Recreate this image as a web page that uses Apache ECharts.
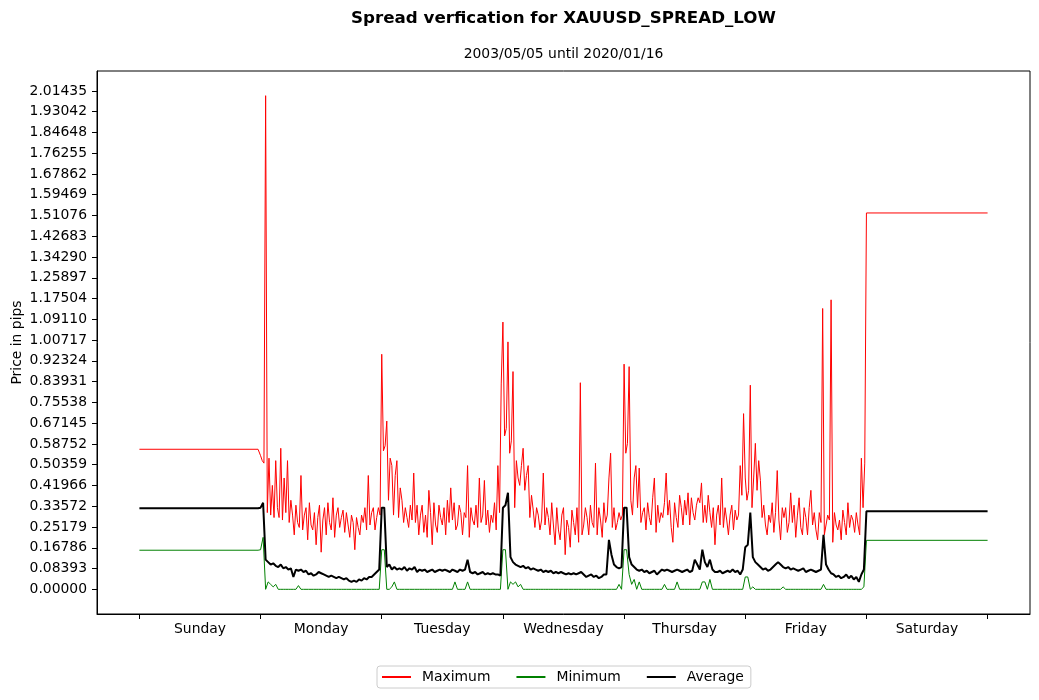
<!DOCTYPE html>
<html>
<head>
<meta charset="utf-8">
<title>Spread verfication for XAUUSD_SPREAD_LOW</title>
<script src="https://cdn.jsdelivr.net/npm/echarts@6/dist/echarts.min.js"></script>
<style>
  html, body { margin: 0; padding: 0; background: #fff; }
  #chart { width: 1039px; height: 700px; }
</style>
</head>
<body>
<div id="chart"></div>
<script>
// day names on the x axis
const dayNames = ['Sunday', 'Monday', 'Tuesday', 'Wednesday', 'Thursday', 'Friday', 'Saturday'];
// y tick step (pips) and number of steps
const yStep = 0.08393112;
const yTickCount = 24;

// flat market-closed levels: [Sunday, Saturday]
const maxWeekend = [0.566, 1.521];
const minWeekend = [0.158, 0.198];
const avgWeekend = [0.328, 0.3155];

// maximum: 20-minute values, Monday .. Friday (72 per day)
const maxMon = [0.54, 0.52, 0.51, 1.995, 0.31, 0.53, 0.30, 0.42, 0.29, 0.52, 0.33, 0.29,
  0.57, 0.28, 0.45, 0.31, 0.52, 0.27, 0.36, 0.30, 0.22, 0.34, 0.27, 0.25,
  0.46, 0.24, 0.30, 0.33, 0.20, 0.35, 0.26, 0.24, 0.31, 0.18, 0.29, 0.34,
  0.15, 0.28, 0.33, 0.22, 0.35, 0.27, 0.24, 0.37, 0.21, 0.30, 0.33, 0.25,
  0.29, 0.32, 0.23, 0.31, 0.26, 0.21, 0.30, 0.27, 0.16, 0.29, 0.25, 0.22,
  0.30, 0.27, 0.33, 0.24, 0.46, 0.26, 0.31, 0.33, 0.24, 0.29, 0.33, 0.30];
const maxTue = [0.95, 0.56, 0.58, 0.68, 0.36, 0.53, 0.50, 0.30, 0.46, 0.52, 0.29, 0.41,
  0.36, 0.27, 0.33, 0.29, 0.25, 0.34, 0.28, 0.47, 0.27, 0.34, 0.22, 0.30,
  0.34, 0.23, 0.30, 0.21, 0.40, 0.31, 0.18, 0.35, 0.26, 0.23, 0.34, 0.29,
  0.26, 0.33, 0.22, 0.36, 0.27, 0.41, 0.28, 0.35, 0.24, 0.26, 0.34, 0.31,
  0.22, 0.31, 0.29, 0.50, 0.21, 0.33, 0.28, 0.26, 0.34, 0.25, 0.45, 0.27,
  0.30, 0.44, 0.26, 0.32, 0.23, 0.30, 0.27, 0.35, 0.24, 0.50, 0.31, 0.83];
const maxWed = [1.08, 0.62, 0.65, 1.00, 0.55, 0.60, 0.88, 0.33, 0.52, 0.45, 0.42, 0.50,
  0.57, 0.40, 0.46, 0.50, 0.29, 0.38, 0.32, 0.25, 0.33, 0.30, 0.24, 0.28,
  0.47, 0.26, 0.33, 0.29, 0.22, 0.35, 0.26, 0.18, 0.33, 0.24, 0.20, 0.30,
  0.33, 0.14, 0.28, 0.25, 0.17, 0.32, 0.27, 0.22, 0.33, 0.19, 0.835, 0.22,
  0.26, 0.33, 0.29, 0.22, 0.34, 0.27, 0.25, 0.51, 0.22, 0.33, 0.28, 0.21,
  0.35, 0.27, 0.30, 0.45, 0.55, 0.25, 0.33, 0.24, 0.27, 0.31, 0.28, 0.30];
const maxThu = [0.91, 0.55, 0.59, 0.90, 0.36, 0.30, 0.45, 0.50, 0.33, 0.49, 0.27, 0.31,
  0.33, 0.24, 0.35, 0.29, 0.26, 0.37, 0.45, 0.23, 0.34, 0.27, 0.31, 0.29,
  0.35, 0.47, 0.30, 0.36, 0.25, 0.19, 0.35, 0.29, 0.25, 0.38, 0.33, 0.26,
  0.36, 0.30, 0.39, 0.26, 0.37, 0.31, 0.28, 0.34, 0.37, 0.35, 0.43, 0.27,
  0.34, 0.27, 0.38, 0.31, 0.25, 0.33, 0.18, 0.30, 0.34, 0.26, 0.45, 0.25,
  0.33, 0.28, 0.22, 0.30, 0.34, 0.24, 0.32, 0.28, 0.30, 0.50, 0.38, 0.71];
const maxFri = [0.45, 0.36, 0.40, 0.825, 0.33, 0.45, 0.59, 0.40, 0.52, 0.44, 0.29, 0.34,
  0.26, 0.22, 0.30, 0.27, 0.35, 0.23, 0.31, 0.48, 0.28, 0.20, 0.33, 0.29,
  0.33, 0.23, 0.27, 0.39, 0.27, 0.34, 0.21, 0.30, 0.37, 0.25, 0.22, 0.33,
  0.29, 0.22, 0.33, 0.40, 0.26, 0.31, 0.24, 0.20, 0.31, 0.27, 1.135, 0.22,
  0.22, 0.30, 0.28, 1.17, 0.19, 0.31, 0.26, 0.24, 0.28, 0.20, 0.32, 0.27,
  0.22, 0.35, 0.25, 0.30, 0.28, 0.23, 0.31, 0.26, 0.22, 0.53, 0.33, 0.51];

// minimum: half-hour values, Monday .. Friday (48 per day)
const minMon = [0.16, 0.21, 0, 0.03, 0.02, 0.01, 0.02, 0, 0, 0, 0, 0,
  0, 0, 0, 0.015, 0, 0, 0, 0, 0, 0, 0, 0,
  0, 0, 0, 0, 0, 0, 0, 0, 0, 0, 0, 0,
  0, 0, 0, 0, 0, 0, 0, 0, 0, 0, 0, 0];
const minTue = [0.16, 0.16, 0, 0, 0.01, 0.03, 0, 0, 0, 0, 0, 0,
  0, 0, 0, 0, 0, 0, 0, 0, 0, 0, 0, 0,
  0, 0, 0, 0, 0, 0.03, 0, 0, 0, 0, 0.03, 0,
  0, 0, 0, 0, 0, 0, 0, 0, 0, 0, 0, 0];
const minWed = [0.16, 0.16, 0, 0.03, 0.02, 0.03, 0.01, 0.02, 0, 0, 0, 0,
  0, 0, 0, 0, 0, 0, 0, 0, 0, 0, 0, 0,
  0, 0, 0, 0, 0, 0, 0, 0, 0, 0, 0, 0,
  0, 0, 0, 0, 0, 0, 0, 0, 0, 0, 0.02, 0];
const minThu = [0.16, 0.16, 0.06, 0.02, 0.04, 0, 0.03, 0, 0, 0, 0, 0,
  0, 0, 0, 0, 0.02, 0, 0, 0, 0, 0.03, 0, 0,
  0, 0, 0, 0, 0, 0, 0, 0.03, 0.03, 0, 0.04, 0,
  0, 0, 0, 0, 0, 0, 0, 0, 0, 0, 0, 0];
const minFri = [0.05, 0.05, 0, 0.01, 0, 0, 0, 0, 0, 0, 0, 0,
  0, 0, 0, 0.01, 0, 0, 0, 0, 0, 0, 0, 0,
  0, 0, 0, 0, 0, 0, 0, 0.02, 0, 0, 0, 0,
  0, 0, 0, 0, 0, 0, 0, 0, 0, 0, 0, 0.01];

// average: half-hour values, Monday .. Friday (48 per day)
const avgMon = [0.33, 0.35, 0.12, 0.11, 0.10, 0.105, 0.095, 0.09, 0.10, 0.085, 0.09, 0.08,
  0.085, 0.05, 0.08, 0.075, 0.08, 0.07, 0.075, 0.06, 0.065, 0.055, 0.06, 0.07,
  0.065, 0.06, 0.055, 0.05, 0.055, 0.05, 0.045, 0.05, 0.045, 0.04, 0.045, 0.035,
  0.03, 0.035, 0.03, 0.04, 0.035, 0.045, 0.04, 0.05, 0.05, 0.06, 0.07, 0.08];
const avgTue = [0.33, 0.33, 0.09, 0.10, 0.08, 0.09, 0.08, 0.085, 0.08, 0.09, 0.075, 0.085,
  0.08, 0.09, 0.07, 0.08, 0.075, 0.08, 0.07, 0.075, 0.08, 0.07, 0.075, 0.08,
  0.075, 0.08, 0.075, 0.07, 0.08, 0.075, 0.07, 0.08, 0.075, 0.08, 0.12, 0.07,
  0.065, 0.07, 0.06, 0.065, 0.07, 0.06, 0.065, 0.06, 0.065, 0.06, 0.06, 0.055];
const avgWed = [0.33, 0.34, 0.39, 0.13, 0.11, 0.10, 0.095, 0.09, 0.095, 0.085, 0.09, 0.08,
  0.085, 0.08, 0.075, 0.08, 0.07, 0.075, 0.07, 0.075, 0.065, 0.07, 0.065, 0.07,
  0.065, 0.06, 0.065, 0.06, 0.065, 0.06, 0.065, 0.07, 0.06, 0.05, 0.055, 0.06,
  0.05, 0.055, 0.045, 0.05, 0.06, 0.06, 0.20, 0.14, 0.10, 0.09, 0.085, 0.09];
const avgThu = [0.33, 0.33, 0.13, 0.10, 0.09, 0.08, 0.075, 0.08, 0.07, 0.075, 0.065, 0.07,
  0.075, 0.06, 0.07, 0.08, 0.075, 0.08, 0.075, 0.07, 0.075, 0.08, 0.075, 0.07,
  0.075, 0.08, 0.07, 0.075, 0.12, 0.10, 0.08, 0.16, 0.11, 0.09, 0.12, 0.08,
  0.07, 0.07, 0.075, 0.065, 0.07, 0.075, 0.07, 0.08, 0.07, 0.075, 0.06, 0.08];
const avgFri = [0.17, 0.18, 0.31, 0.13, 0.11, 0.10, 0.09, 0.08, 0.085, 0.075, 0.08, 0.09,
  0.10, 0.11, 0.10, 0.09, 0.085, 0.09, 0.08, 0.085, 0.08, 0.075, 0.08, 0.085,
  0.07, 0.075, 0.08, 0.075, 0.07, 0.075, 0.08, 0.22, 0.10, 0.08, 0.065, 0.06,
  0.05, 0.055, 0.045, 0.05, 0.06, 0.045, 0.055, 0.04, 0.05, 0.03, 0.06, 0.08];

(function() {
  var myChart = echarts.init(document.getElementById('chart'), null, { renderer: 'canvas' });

  // x is hours since Sunday 00:00
  function buildWeek(weekend, weekdays, stepHours) {
    var pts = [[0, weekend[0]], [23.5, weekend[0]]];
    weekdays.forEach(function(day, d) {
      day.forEach(function(v, i) {
        pts.push([24 * (d + 1) + stepHours * i, v]);
      });
    });
    pts.push([144, weekend[1]], [168, weekend[1]]);
    return pts;
  }

  var dayTicks = dayNames.map(function(n, i) { return 24 * i; }).concat([168]);
  var dayCenters = dayNames.map(function(n, i) { return 24 * i + 12; });
  var yTicks = [];
  for (var k = 0; k <= yTickCount; k++) yTicks.push(k * yStep);

  // matplotlib style 5% padding around the data
  var yTop = 1.995;
  var font = 'DejaVu Sans';
  var tickStyle = { show: true, length: 5, lineStyle: { color: '#000', width: 1 } };

  var option = {
    animation: false,
    textStyle: { fontFamily: font, color: '#000' },
    graphic: [
      {
        type: 'text', x: 563.5, y: 19, z: 10,
        style: {
          text: 'Spread verfication for XAUUSD_SPREAD_LOW',
          font: 'bold 16.7px "DejaVu Sans"', fill: '#000',
          align: 'center', verticalAlign: 'middle'
        }
      },
      {
        type: 'text', x: 563.5, y: 54, z: 10,
        style: {
          text: '2003/05/05 until 2020/01/16',
          font: '13.9px "DejaVu Sans"', fill: '#000',
          align: 'center', verticalAlign: 'middle'
        }
      }
    ],
    legend: {
      left: 377,
      top: 666,
      padding: [4, 7, 4, 4],
      itemWidth: 29,
      itemHeight: 14,
      itemGap: 25,
      borderColor: '#cccccc',
      borderWidth: 1,
      borderRadius: 3,
      itemStyle: { opacity: 0 },
      textStyle: { fontFamily: font, fontSize: 13.9, color: '#000', padding: [0, 0, 0, 6] },
      data: ['Maximum', 'Minimum', 'Average']
    },
    grid: {
      left: 97,
      right: 9,
      top: 71,
      bottom: 86,
      show: true,
      borderColor: '#000',
      borderWidth: 1,
      backgroundColor: 'transparent',
      outerBoundsMode: 'none'
    },
    xAxis: {
      type: 'value',
      min: -0.05 * 168,
      max: 1.05 * 168,
      axisLine: { show: true, onZero: false, lineStyle: { color: '#000', width: 1 } },
      axisTick: Object.assign({ customValues: dayTicks }, tickStyle),
      axisLabel: {
        customValues: dayCenters,
        margin: 8,
        fontFamily: font,
        fontSize: 13.9,
        color: '#000',
        formatter: function(v) { return dayNames[Math.round((v - 12) / 24)]; }
      },
      splitLine: { show: false }
    },
    yAxis: {
      type: 'value',
      min: -0.05 * yTop,
      max: 1.05 * yTop,
      name: 'Price in pips',
      nameLocation: 'middle',
      nameGap: 73,
      nameMoveOverlap: false,
      nameTextStyle: { fontFamily: font, fontSize: 13.9, color: '#000' },
      axisLine: { show: true, onZero: false, lineStyle: { color: '#000', width: 1 } },
      axisTick: Object.assign({ customValues: yTicks }, tickStyle),
      axisLabel: {
        customValues: yTicks,
        margin: 10,
        fontFamily: font,
        fontSize: 13.9,
        color: '#000',
        formatter: function(v) { return v.toFixed(5); }
      },
      splitLine: { show: false }
    },
    series: [
      {
        name: 'Maximum',
        type: 'line',
        symbol: 'none',
        showSymbol: false,
        color: '#ff0000',
        lineStyle: { color: '#ff0000', width: 1 },
        data: buildWeek(maxWeekend, [maxMon, maxTue, maxWed, maxThu, maxFri], 1 / 3)
      },
      {
        name: 'Minimum',
        type: 'line',
        symbol: 'none',
        showSymbol: false,
        color: '#008000',
        lineStyle: { color: '#008000', width: 1 },
        data: buildWeek(minWeekend, [minMon, minTue, minWed, minThu, minFri], 0.5)
      },
      {
        name: 'Average',
        type: 'line',
        symbol: 'none',
        showSymbol: false,
        color: '#000000',
        lineStyle: { color: '#000000', width: 2 },
        data: buildWeek(avgWeekend, [avgMon, avgTue, avgWed, avgThu, avgFri], 0.5)
      }
    ]
  };

  myChart.setOption(option);
  window.addEventListener('resize', function() {
    myChart.resize();
  });
})();
</script>
</body>
</html>
